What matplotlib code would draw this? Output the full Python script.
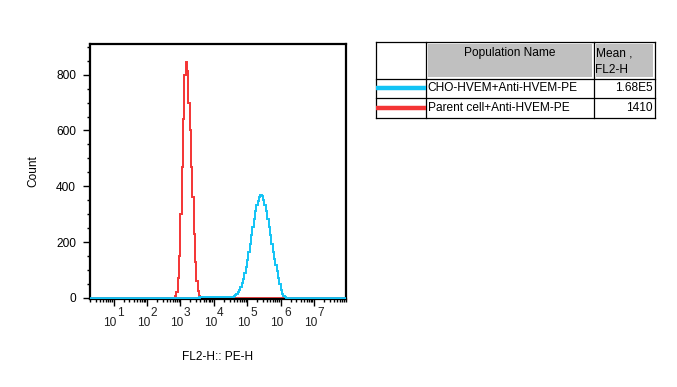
import numpy as np
import matplotlib
matplotlib.use('Agg')
import matplotlib.pyplot as plt
import matplotlib.transforms as mtransforms
from matplotlib.patches import Rectangle
from matplotlib.ticker import LogLocator, MultipleLocator, NullFormatter

plt.rcParams['font.family'] = ['Liberation Sans', 'DejaVu Sans']

# histogram data (log10 of FL2-H, bin width 0.04 decades)
bin_w = 0.04
red_start = 2.84
red_counts = [5, 20, 70, 150, 300, 470, 640, 800, 845, 815, 700, 600,
              470, 360, 230, 130, 60, 25, 8, 2]
blue_start = 3.56
blue_counts = [4, 4, 4, 4, 4, 4, 4, 4, 4, 4, 4, 4, 4, 4, 4, 4, 4, 4, 4, 4, 4, 4, 4, 4, 4, 4,
               7, 10, 15, 21, 29, 40, 53, 69, 88, 110, 136, 163, 193, 224,
               255, 284, 310, 332, 349, 362, 368, 365, 352, 332, 310, 284,
               255, 224, 193, 163, 140, 118, 95, 72, 50, 30, 15, 6, 2]

pop_names = ['CHO-HVEM+Anti-HVEM-PE', 'Parent cell+Anti-HVEM-PE']
pop_means = ['1.68E5', '1410']
pop_colors = ['#11c3f5', '#f43434']

decades = [1, 2, 3, 4, 5, 6, 7]
x_lo, x_hi = 0.296, 7.96

fig = plt.figure(figsize=(6.77, 3.87), dpi=100)
ax = fig.add_axes([90 / 677, 88 / 387, 256 / 677, 255 / 387])

red_edges = red_start + bin_w * np.arange(len(red_counts) + 1)
blue_edges = blue_start + bin_w * np.arange(len(blue_counts) + 1)

ax.axhline(0, color=pop_colors[1], lw=2, zorder=2)
ax.stairs(red_counts, 10 ** red_edges, color=pop_colors[1], lw=1.4, zorder=3)
ax.plot([10 ** x_lo, 10 ** blue_start], [0, 0], color=pop_colors[0], lw=2, zorder=4)
ax.plot([10 ** blue_edges[-1], 10 ** x_hi], [0, 0], color=pop_colors[0], lw=2, zorder=4)
ax.stairs(blue_counts, 10 ** blue_edges, color=pop_colors[0], lw=1.4, zorder=4)

ax.set_xscale('log')
ax.set_xlim(10 ** x_lo, 10 ** x_hi)
ax.set_ylim(-4, 910)

ax.xaxis.set_major_locator(LogLocator(base=10, numticks=20))
ax.xaxis.set_minor_locator(LogLocator(base=10, subs=np.arange(2, 10), numticks=20))
ax.xaxis.set_major_formatter(NullFormatter())
ax.xaxis.set_minor_formatter(NullFormatter())
ax.yaxis.set_major_locator(MultipleLocator(200))
ax.yaxis.set_minor_locator(MultipleLocator(50))

ax.tick_params(axis='both', which='major', length=5, width=1, color='black',
               labelsize=8.6, pad=5)
ax.tick_params(axis='both', which='minor', length=2.5, width=1, color='black')
for sp in ax.spines.values():
    sp.set_linewidth(1.6)

# decade labels: "10" with a raised exponent
trans = ax.get_xaxis_transform()
base_t = mtransforms.offset_copy(trans, fig=fig, x=-3.5, y=-23.5, units='dots')
exp_t = mtransforms.offset_copy(trans, fig=fig, x=3.5, y=-14.5, units='dots')
for k in decades:
    ax.text(10 ** k, 0, '10', transform=base_t, ha='center', va='center',
            fontsize=8.6, color='#222222')
    ax.text(10 ** k, 0, str(k), transform=exp_t, ha='left', va='center',
            fontsize=8.6, color='#222222')

ax.set_ylabel('Count', fontsize=8.6, labelpad=12)
fig.text(218 / 677, 1 - 357 / 387, 'FL2-H:: PE-H', ha='center', va='center', fontsize=8.6)

# legend table drawn in pixel coordinates
tab = fig.add_axes([0, 0, 1, 1])
tab.set_xlim(0, 677)
tab.set_ylim(387, 0)
tab.axis('off')

x0, x1, x2, x3 = 376, 425.5, 593.5, 654.5
y0, y1, y2, y3 = 42, 78.5, 98, 117.5
tab.add_patch(Rectangle((x1 + 2, y0 + 2), x2 - x1 - 4, y1 - y0 - 4,
                        facecolor='#c0c0c0', edgecolor='none'))
tab.add_patch(Rectangle((x2 + 2, y0 + 2), x3 - x2 - 4, y1 - y0 - 4,
                        facecolor='#c0c0c0', edgecolor='none'))
for yy in [y0, y1, y2, y3]:
    tab.plot([x0, x3], [yy, yy], color='black', lw=0.9)
for xx in [x0, x1, x2, x3]:
    tab.plot([xx, xx], [y0, y3], color='black', lw=0.9)

tab.text((x1 + x2) / 2, 53, 'Population Name', ha='center', va='center', fontsize=8.6)
tab.text(x2 + 2, 54, 'Mean ,', ha='left', va='center', fontsize=8.6)
tab.text(x2 + 2, 70, 'FL2-H', ha='left', va='center', fontsize=8.6)
rows_y = [(y1 + y2) / 2, (y2 + y3) / 2]
for name, mean, col, ry in zip(pop_names, pop_means, pop_colors, rows_y):
    tab.plot([x0, x1], [ry, ry], color=col, lw=3.2, solid_capstyle='butt')
    tab.text(x1 + 2, ry, name, ha='left', va='center', fontsize=8.6)
    tab.text(x3 - 2, ry, mean, ha='right', va='center', fontsize=8.6)

fig.savefig('out.png', dpi=100)
